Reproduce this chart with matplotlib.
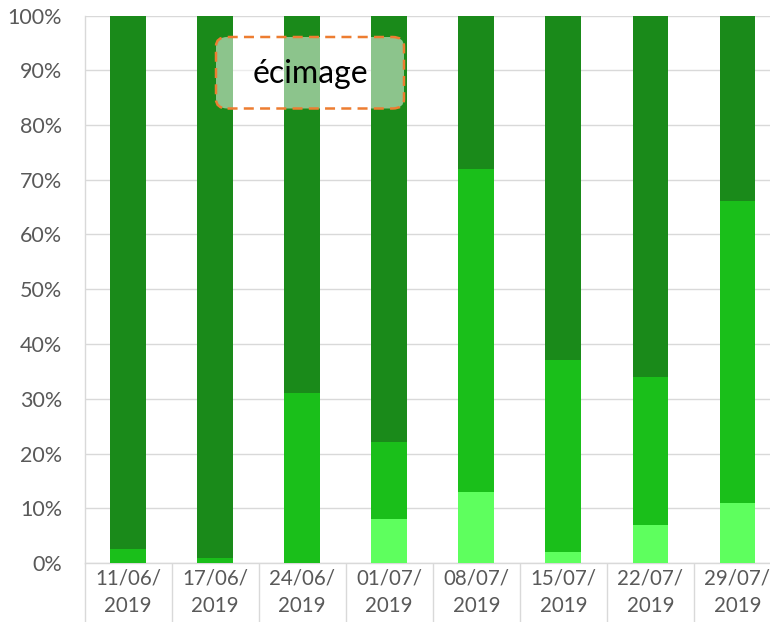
import matplotlib
matplotlib.use("Agg")
import matplotlib.pyplot as plt
from matplotlib.patches import FancyBboxPatch
import numpy as np

categories = ["11/06/\n2019", "17/06/\n2019", "24/06/\n2019", "01/07/\n2019",
              "08/07/\n2019", "15/07/\n2019", "22/07/\n2019", "29/07/\n2019"]
light = [0, 0, 0, 8, 13, 2, 7, 11]
medium = [2.6, 0.9, 31, 14.1, 59, 35.1, 27, 55.1]
dark = [100 - l - m for l, m in zip(light, medium)]
yticks = [0, 10, 20, 30, 40, 50, 60, 70, 80, 90, 100]
annotation = "écimage"

plt.rcParams['font.family'] = ['Lato', 'DejaVu Sans']

W, H = 770, 622
fig = plt.figure(figsize=(W / 100, H / 100), dpi=100)
left, right, top, bottom = 84.5, 781, 15.5, 563
ax = fig.add_axes([left / W, (H - bottom) / H, (right - left) / W, (bottom - top) / H])

x = np.arange(len(categories))
bw = 0.41
c_light, c_med, c_dark = "#5EFF5E", "#1ABF1A", "#1A8A1A"
ax.bar(x, light, bw, color=c_light, zorder=3)
ax.bar(x, medium, bw, bottom=light, color=c_med, zorder=3)
ax.bar(x, dark, bw, bottom=np.array(light) + np.array(medium), color=c_dark, zorder=3)

ax.set_xlim(-0.5, len(categories) - 0.5)
ax.set_ylim(0, 100)
ax.set_yticks(yticks)
ax.set_yticklabels([f"{v}%" for v in yticks])
ax.set_xticks(x)
ax.set_xticklabels(categories, linespacing=1.45)
ax.set_xticks(np.arange(len(categories) + 1) - 0.5, minor=True)

grid_c = "#D9D9D9"
ax.grid(axis="y", color=grid_c, linewidth=1.0, zorder=0)
for s in ["top", "right"]:
    ax.spines[s].set_visible(False)
for s in ["left", "bottom"]:
    ax.spines[s].set_color(grid_c)
    ax.spines[s].set_linewidth(1.0)

ax.tick_params(axis="y", length=0, pad=16, labelsize=15.5, labelcolor="#595959")
ax.tick_params(axis="x", which="major", length=0, pad=4, labelsize=14.8, labelcolor="#595959")
ax.tick_params(axis="x", which="minor", length=50, width=1.0, color=grid_c, direction="out")

# annotation box
bx0, bx1, by0, by1 = 216, 404, 37, 108.5
box = FancyBboxPatch((bx0 / W, (H - by1) / H), (bx1 - bx0) / W, (by1 - by0) / H,
                     boxstyle="round,pad=0,rounding_size=0.015",
                     transform=fig.transFigure, facecolor=(1, 1, 1, 0.5),
                     edgecolor="#ED7D31", linewidth=1.8, linestyle=(0, (4, 2.5)),
                     zorder=10)
fig.patches.append(box)
fig.text((bx0 + bx1) / 2 / W, (H - 74) / H, annotation, ha="center", va="center",
         fontsize=23, color="black", zorder=11)

fig.savefig("out.png", dpi=100)
